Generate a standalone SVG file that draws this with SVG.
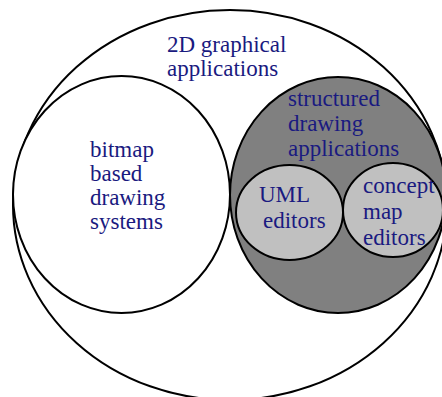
<svg xmlns="http://www.w3.org/2000/svg" width="442" height="397" viewBox="0 0 442 397">
<style>
.s{stroke:#000;stroke-width:2}
.t{font-family:"Liberation Serif","Times New Roman",serif;font-size:23px;fill:#1a1a80}
</style>
<rect width="442" height="397" fill="#fff"/>
<g id="all">
<ellipse class="s" cx="230" cy="205" rx="217" ry="195" fill="#fff"/>
<text class="t" x="167" y="52">2D graphical</text>
<text class="t" x="167" y="76">applications</text>
</g>
<g id="bitmap">
<ellipse class="s" cx="121.5" cy="194.5" rx="108.5" ry="118.5" fill="#fff"/>
<text class="t" x="90" y="157">bitmap</text>
<text class="t" x="90" y="181">based</text>
<text class="t" x="90" y="205">drawing</text>
<text class="t" x="90" y="229">systems</text>
</g>
<g id="structured">
<ellipse class="s" cx="338" cy="195" rx="108" ry="118" fill="#808080"/>
<text class="t" x="288" y="106">structured</text>
<text class="t" x="288" y="131">drawing</text>
<text class="t" x="288" y="156">applications</text>
</g>
<g id="uml">
<ellipse class="s" cx="289.5" cy="212.5" rx="53.5" ry="47.5" fill="#c0c0c0"/>
<text class="t" x="259" y="202">UML</text>
<text class="t" x="263" y="228">editors</text>
</g>
<g id="concept">
<ellipse class="s" cx="393" cy="210" rx="50" ry="47" fill="#c0c0c0"/>
<text class="t" x="363" y="193">concept</text>
<text class="t" x="363" y="219">map</text>
<text class="t" x="363" y="245">editors</text>
</g>
<g id="connectors"/>
</svg>
